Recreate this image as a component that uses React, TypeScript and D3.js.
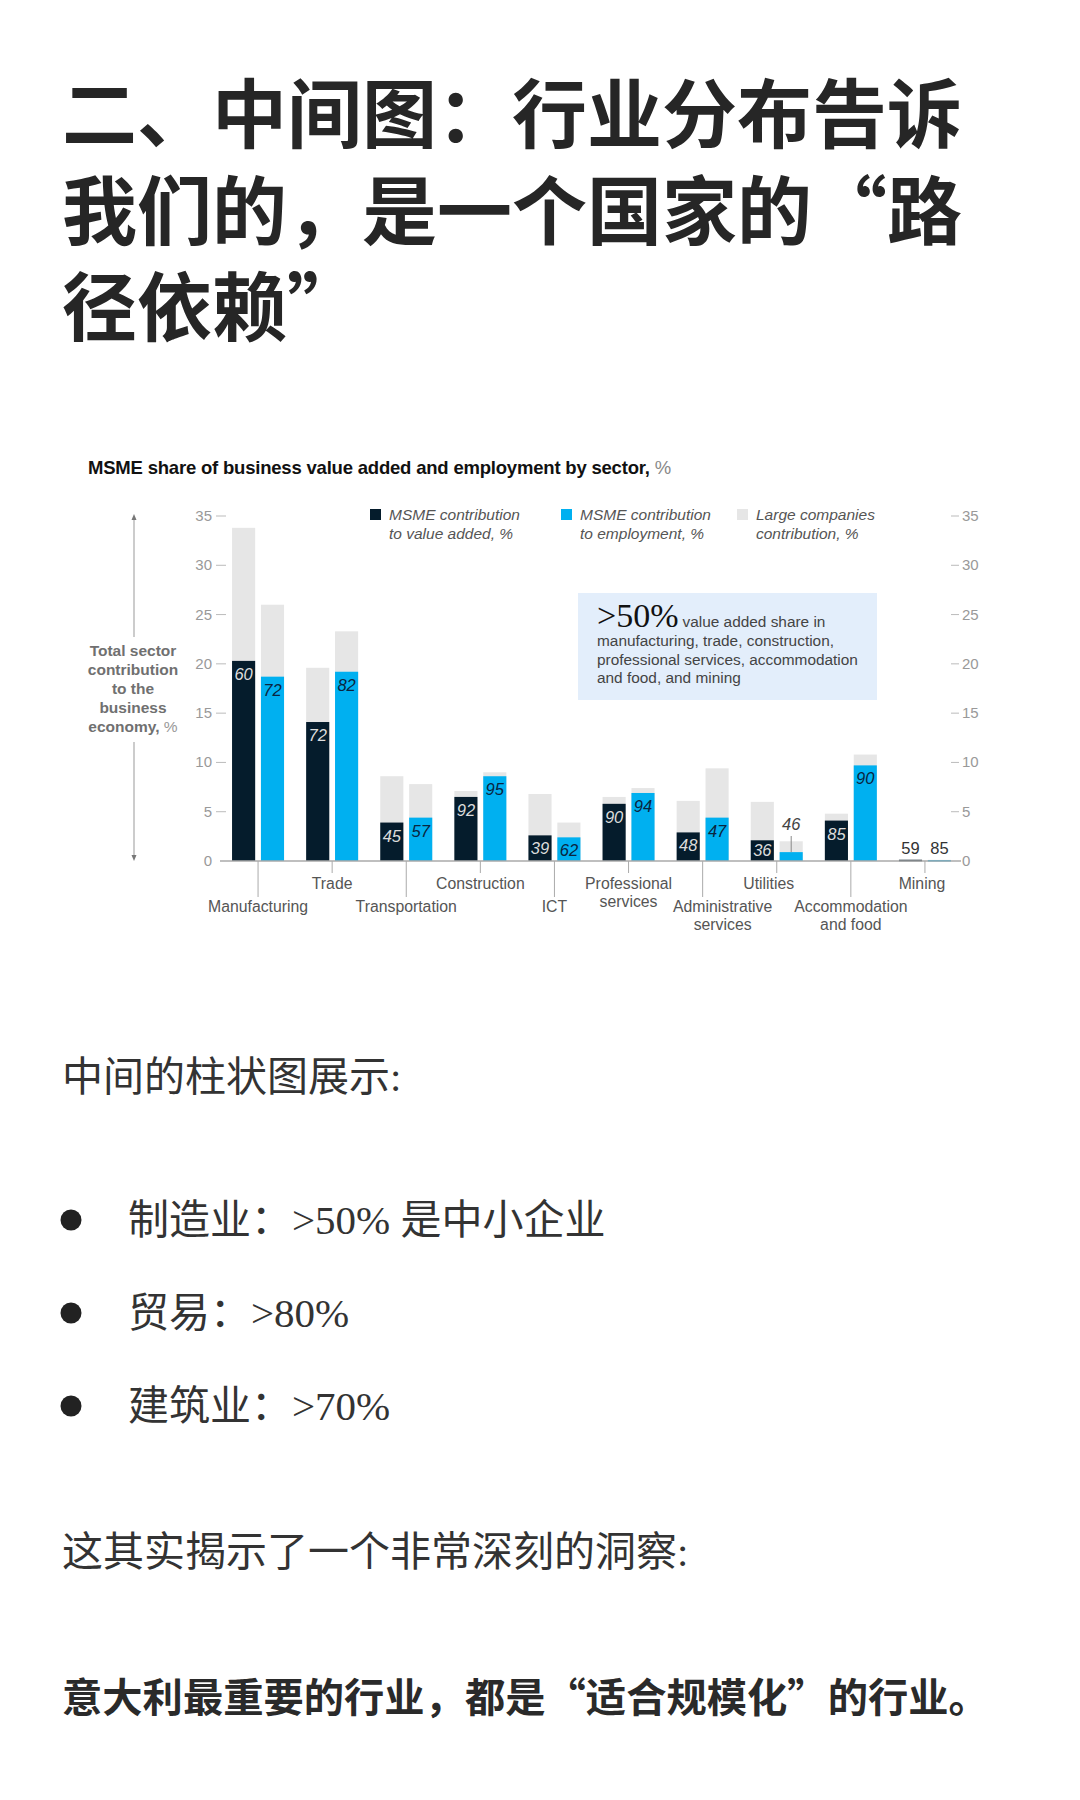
import * as d3 from "d3";

// sectors, left to right
const sectors = [
  "Manufacturing",
  "Trade",
  "Transportation",
  "Construction",
  "ICT",
  "Professional services",
  "Administrative services",
  "Utilities",
  "Accommodation and food",
  "Mining",
];
const sectorLines = [
  ["Manufacturing"],
  ["Trade"],
  ["Transportation"],
  ["Construction"],
  ["ICT"],
  ["Professional", "services"],
  ["Administrative", "services"],
  ["Utilities"],
  ["Accommodation", "and food"],
  ["Mining"],
];

// total sector contribution to business economy, %
const vaTotal = [33.8, 19.6, 8.6, 7.1, 6.8, 6.5, 6.1, 6.0, 4.8, 0.2];
const empTotal = [26.0, 23.3, 7.8, 9.0, 3.9, 7.4, 9.4, 2.0, 10.8, 0.12];
// MSME part of it
const vaMsme = [20.3, 14.1, 3.9, 6.5, 2.6, 5.8, 2.9, 2.1, 4.1, 0.12];
const empMsme = [18.7, 19.2, 4.4, 8.6, 2.4, 6.9, 4.4, 0.9, 9.7, 0.1];
// MSME share labels, %
const vaShare = [60, 72, 45, 92, 39, 90, 48, 36, 85, 59];
const empShare = [72, 82, 57, 95, 62, 94, 47, 46, 90, 85];

const yTicks = [0, 5, 10, 15, 20, 25, 30, 35];

const legendItems = [
  { color: "#051c2c", lines: ["MSME contribution", "to value added, %"] },
  { color: "#00b0f0", lines: ["MSME contribution", "to employment, %"] },
  { color: "#e6e6e6", lines: ["Large companies", "contribution, %"] },
];

const titleLines = ["二、中间图：行业分布告诉", "我们的，是一个国家的“路", "径依赖”"];
const bullets = ["制造业：>50% 是中小企业", "贸易：>80%", "建筑业：>70%"];

const DARK = "#051c2c";
const BLUE = "#00b0f0";
const GREY = "#e6e6e6";
const SANS = "'Liberation Sans', Arial, sans-serif";
const CJK = "'Noto Sans CJK SC', sans-serif";
const BODY = "'Liberation Serif', 'Noto Sans CJK SC', serif";

// label nudges for crowded category names
const labelDx: Record<string, number> = {
  "Administrative services": 20,
  Utilities: -8,
  Mining: -3,
};

const App = () => {
  const y = d3.scaleLinear().domain([0, 35]).range([861, 516]);
  const xc = d3.scalePoint().domain(sectors).range([221, 962]).padding(0.5);
  const xs = d3.scaleBand().domain(["va", "emp"]).range([-26, 26]).paddingInner(0.2);
  const bw = xs.bandwidth();

  const groups = sectors.map((s, i) => ({
    s,
    i,
    cx: xc(s) as number,
    bars: [
      { key: "va", total: vaTotal[i], msme: vaMsme[i], share: vaShare[i], color: DARK, text: "#dcdcdc" },
      { key: "emp", total: empTotal[i], msme: empMsme[i], share: empShare[i], color: BLUE, text: "#0a2540" },
    ],
  }));

  return (
    <svg
      width={1080}
      height={1800}
      style={{ position: "absolute", left: 0, top: 0, background: "#fff" }}
    >
      <rect width={1080} height={1800} fill="#fff" />

      {/* heading */}
      {titleLines.map((t, i) => (
        <text key={t} x={62} y={142 + i * 96.5} fontFamily={CJK} fontWeight={700} fontSize={75} fill="#262626">
          {t}
        </text>
      ))}

      {/* chart */}
      <g fontFamily={SANS}>
        <text x={88} y={474} fontSize={18.5} fontWeight={700} fill="#111" letterSpacing={-0.2}>
          MSME share of business value added and employment by sector,{" "}
          <tspan fontWeight={400} fill="#888">%</tspan>
        </text>

        {legendItems.map((d, i) => {
          const lx = [370, 561, 737][i];
          return (
            <g key={i}>
              <rect x={lx} y={509} width={11} height={11} fill={d.color} />
              {d.lines.map((l, j) => (
                <text key={l} x={lx + 19} y={520 + j * 18.5} fontSize={15.5} fontStyle="italic" fill="#555">
                  {l}
                </text>
              ))}
            </g>
          );
        })}

        {/* annotation */}
        <rect x={578} y={593} width={299} height={107} fill="#e3eefb" />
        <text x={597} y={627} fill="#444" fontSize={15.4}>
          <tspan fontFamily="'Liberation Serif', serif" fontSize={34} fill="#111">
            {">50%"}
          </tspan>
          <tspan dx={4}>value added share in</tspan>
        </text>
        {["manufacturing, trade, construction,", "professional services, accommodation", "and food, and mining"].map(
          (l, j) => (
            <text key={l} x={597} y={646 + j * 18.7} fontSize={15.4} fill="#444">
              {l}
            </text>
          )
        )}

        {/* left axis label with arrows */}
        <line x1={134} x2={134} y1={518} y2={637} stroke="#999" />
        <line x1={134} x2={134} y1={742} y2={857} stroke="#999" />
        <path d="M134,514 L131.5,520 L136.5,520 Z" fill="#777" />
        <path d="M134,861 L131.5,855 L136.5,855 Z" fill="#777" />
        {["Total sector", "contribution", "to the", "business"].map((l, j) => (
          <text key={l} x={133} y={656 + j * 19} textAnchor="middle" fontSize={15.5} fontWeight={700} fill="#707070">
            {l}
          </text>
        ))}
        <text x={133} y={732} textAnchor="middle" fontSize={15.5} fill="#707070">
          <tspan fontWeight={700}>economy,</tspan> <tspan fill="#999">%</tspan>
        </text>

        {/* y ticks, both sides */}
        {yTicks.map((t) => (
          <g key={t}>
            {t > 0 && <line x1={216} x2={226} y1={y(t)} y2={y(t)} stroke="#bbb" />}
            <text x={212} y={y(t) + 5} textAnchor="end" fontSize={15} fill="#999">
              {t}
            </text>
            {t > 0 && <line x1={951} x2={959} y1={y(t)} y2={y(t)} stroke="#bbb" />}
            <text x={962} y={y(t) + 5} fontSize={15} fill="#999">
              {t}
            </text>
          </g>
        ))}

        {/* bars */}
        {groups.map((g) => (
          <g key={g.s}>
            {g.bars.map((b) => {
              const x = g.cx + (xs(b.key) as number);
              const mid = x + bw / 2;
              const top = y(b.msme);
              const small = b.msme < 1.5;
              const leader = small && b.total - b.msme > 0.5;
              return (
                <g key={b.key}>
                  <rect x={x} y={y(b.total)} width={bw} height={y(0) - y(b.total)} fill={GREY} />
                  <rect x={x} y={top} width={bw} height={Math.max(y(0) - top, 1.5)} fill={b.color} />
                  {!small && (
                    <text
                      x={mid}
                      y={Math.min(top + 19, 856)}
                      textAnchor="middle"
                      fontSize={16.5}
                      fontStyle="italic"
                      fill={b.text}
                    >
                      {b.share}
                    </text>
                  )}
                  {leader && (
                    <>
                      <line x1={mid} x2={mid} y1={836} y2={top} stroke="#888" />
                      <text x={mid} y={830} textAnchor="middle" fontSize={16.5} fontStyle="italic" fill="#444">
                        {b.share}
                      </text>
                    </>
                  )}
                  {small && !leader && (
                    <text x={mid} y={854} textAnchor="middle" fontSize={16.5} fill="#333">
                      {b.share}
                    </text>
                  )}
                </g>
              );
            })}
          </g>
        ))}

        {/* baseline */}
        <line x1={220} x2={961} y1={y(0)} y2={y(0)} stroke="#aaa" strokeWidth={1.5} />

        {/* category ticks and labels */}
        {groups.map((g) => {
          const long = g.i % 2 === 0;
          const y2 = long ? 897 : 873;
          const ly = long ? 912 : 889;
          const dx = labelDx[g.s] || 0;
          return (
            <g key={g.s}>
              <line x1={g.cx} x2={g.cx} y1={y(0)} y2={y2} stroke="#aaa" />
              {sectorLines[g.i].map((l, j) => (
                <text key={l} x={g.cx + dx} y={ly + j * 18} textAnchor="middle" fontSize={15.8} fill="#555">
                  {l}
                </text>
              ))}
            </g>
          );
        })}
      </g>

      {/* body text */}
      <g fontFamily={BODY} fill="#333" fontSize={41}>
        <text x={62} y={1091}>中间的柱状图展示:</text>
        {bullets.map((b, i) => (
          <g key={b}>
            <circle cx={71} cy={1220 + i * 93} r={10.5} fill="#222" />
            <text x={128} y={1234 + i * 93}>
              {b}
            </text>
          </g>
        ))}
        <text x={62} y={1566}>这其实揭示了一个非常深刻的洞察:</text>
        <text x={62} y={1712} fontFamily={CJK} fontSize={40.3} fontWeight={700} fill="#2a2a2a">
          意大利最重要的行业，都是“适合规模化”的行业。
        </text>
      </g>
    </svg>
  );
};

export default App;
